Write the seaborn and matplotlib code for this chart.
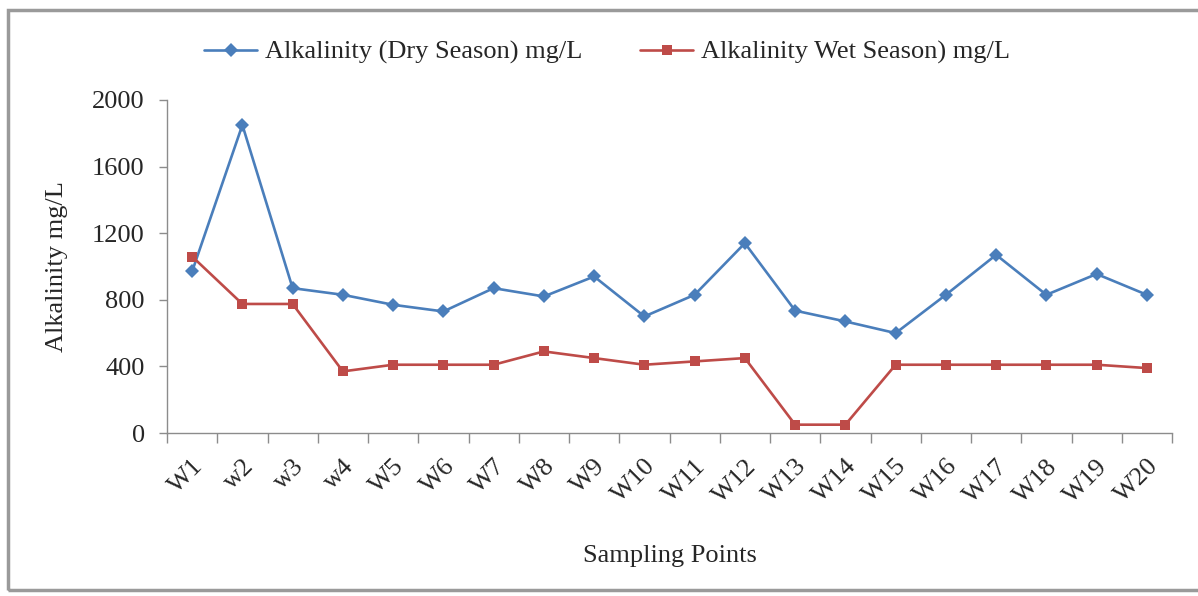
import numpy as np
import pandas as pd
import matplotlib
matplotlib.use("Agg")
import matplotlib.pyplot as plt
from matplotlib.patches import Rectangle
from matplotlib.ticker import FixedLocator
import seaborn as sns

# Sampling points and measured alkalinity (mg/L)
sites = ["W1", "w2", "w3", "w4", "W5", "W6", "W7", "W8", "W9", "W10",
         "W11", "W12", "W13", "W14", "W15", "W16", "W17", "W18", "W19", "W20"]
dry_season = [970, 1850, 870, 830, 770, 730, 870, 820, 940, 700,
              830, 1140, 735, 670, 600, 830, 1070, 830, 955, 830]
wet_season = [1060, 775, 775, 370, 410, 410, 410, 490, 450, 410,
              430, 450, 50, 50, 410, 410, 410, 410, 410, 390]
series_names = ["Alkalinity (Dry Season) mg/L", "Alkalinity Wet Season) mg/L"]
y_ticks = [0, 400, 800, 1200, 1600, 2000]

sns.set_theme(style="white")
plt.rcParams["font.family"] = ["Liberation Serif", "DejaVu Serif"]

df = pd.DataFrame({
    "pos": list(range(len(sites))) * 2,
    "value": dry_season + wet_season,
    "series": [series_names[0]] * len(sites) + [series_names[1]] * len(sites),
})

FS = 19
fig = plt.figure(figsize=(11.98, 5.96), dpi=100)
ax = fig.add_axes([167 / 1198, 1 - 433 / 596, (1172 - 167) / 1198, (433 - 100) / 596])

palette = {series_names[0]: "#4A7EBB", series_names[1]: "#BE4B48"}
markers = {series_names[0]: "D", series_names[1]: "s"}
sns.lineplot(data=df, x="pos", y="value", hue="series", style="series",
             palette=palette, markers=markers, dashes=False, markersize=7,
             linewidth=1.9, markeredgewidth=0, ax=ax)

ax.set_xlim(-0.5, len(sites) - 0.5)
ax.set_ylim(0, 2000)
ax.set_yticks(y_ticks)
ax.set_yticklabels([str(v) for v in y_ticks], fontsize=FS)

# category labels centred, tick marks on boundaries
ax.set_xticks(range(len(sites)))
ax.set_xticklabels(sites, rotation=45, ha="right", rotation_mode="anchor", fontsize=FS)
ax.xaxis.set_minor_locator(FixedLocator(np.arange(-0.5, len(sites), 1.0)))
ax.tick_params(axis="x", which="major", length=0, pad=16)
ax.tick_params(axis="x", which="minor", length=7, width=1, color="#8C8C8C", direction="out", bottom=True)
ax.tick_params(axis="y", which="major", length=6, width=1, color="#8C8C8C", direction="out", left=True, pad=10)

for side in ["top", "right"]:
    ax.spines[side].set_visible(False)
for side in ["left", "bottom"]:
    ax.spines[side].set_color("#8C8C8C")
    ax.spines[side].set_linewidth(1)

ax.set_xlabel("Sampling Points", fontsize=FS, labelpad=27)
ax.set_ylabel("Alkalinity mg/L", fontsize=FS, labelpad=17)

handles, labels = ax.get_legend_handles_labels()
ax.legend(handles, labels, loc="upper center", bbox_to_anchor=(0.438, 1.25), ncol=2,
          frameon=False, fontsize=FS, handlelength=2.0, columnspacing=2.2, handletextpad=0.3)

# chart area border
fig.patches.append(Rectangle((8 / 1198, 6 / 596), 1.0, 1 - 16 / 596, transform=fig.transFigure,
                             fill=False, edgecolor="#9A9A9A", linewidth=2.5))

fig.savefig("out.png", dpi=100)
